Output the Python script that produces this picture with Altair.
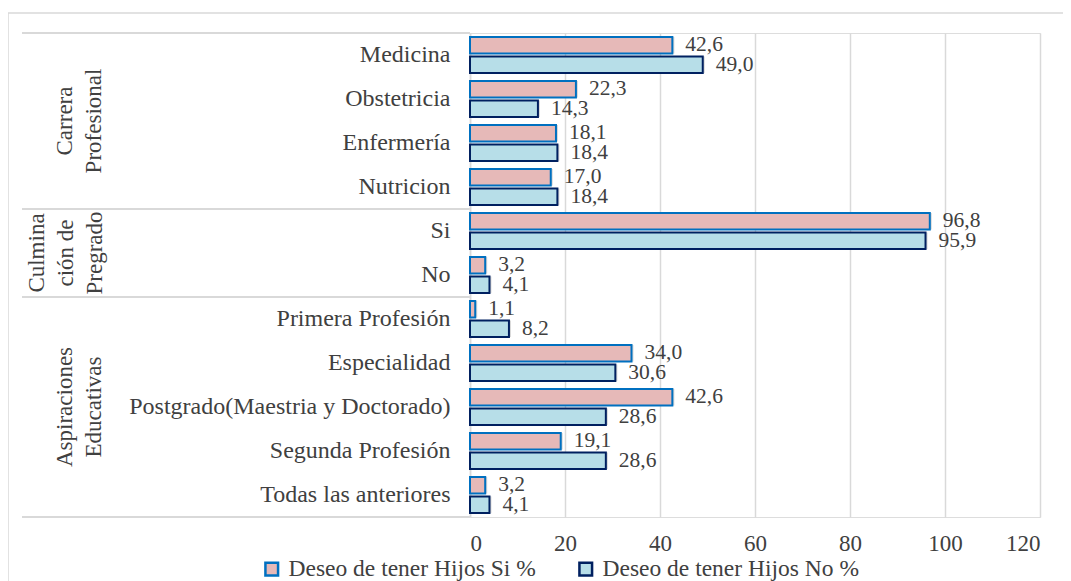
import altair as alt
import pandas as pd

categories = ["Medicina", "Obstetricia", "Enfermería", "Nutricion", "Si", "No",
              "Primera Profesión", "Especialidad", "Postgrado(Maestria y Doctorado)",
              "Segunda Profesión", "Todas las anteriores"]
si_values = [42.6, 22.3, 18.1, 17.0, 96.8, 3.2, 1.1, 34.0, 42.6, 19.1, 3.2]
no_values = [49.0, 14.3, 18.4, 18.4, 95.9, 4.1, 8.2, 30.6, 28.6, 28.6, 4.1]
series = ["Deseo de tener Hijos Si %", "Deseo de tener Hijos No %"]
fills = ["#E6B9B8", "#B7DEE8"]
strokes = ["#0070C0", "#002060"]
x_ticks = [0, 20, 40, 60, 80, 100, 120]

group_labels = ["Carrera\nProfesional", "Culmina\nción de\nPregrado", "Aspiraciones\nEducativas"]
group_anchor = ["Obstetricia", "Si", "Postgrado(Maestria y Doctorado)"]
group_band = [1, 1, 0.5]
group_x = [-405, -433, -405]
separators_top = ["Medicina", "Si", "Primera Profesión"]
separators_bottom = ["Todas las anteriores"]

FONT = "Liberation Serif, Times New Roman, DejaVu Serif, serif"
TXT = "#404040"
GRID = "#d9d9d9"

rows = []
for c, s, n in zip(categories, si_values, no_values):
    rows.append({"category": c, "serie": series[0], "value": s})
    rows.append({"category": c, "serie": series[1], "value": n})
df = pd.DataFrame(rows)

yscale = alt.Scale(domain=categories, paddingInner=0, paddingOuter=0)
yaxis = alt.Axis(title=None, labelFont=FONT, labelFontSize=24, labelColor=TXT,
                 ticks=False, domainColor=GRID, domainWidth=1.5,
                 labelPadding=20, labelLimit=0)


def ycat(bp=None):
    if bp is None:
        return alt.Y("category:N", scale=yscale, sort=categories, axis=yaxis)
    return alt.Y("category:N", scale=yscale, sort=categories, axis=yaxis, bandPosition=bp)


y_off = alt.YOffset("serie:N", sort=series,
                    scale=alt.Scale(domain=series, paddingInner=0.15, paddingOuter=0.2))
x_enc = alt.X("value:Q", scale=alt.Scale(domain=[0, 120]),
              axis=alt.Axis(values=x_ticks, title=None, grid=True, gridColor=GRID, gridWidth=1.5,
                            domain=False, ticks=False, labelFont=FONT, labelFontSize=23,
                            labelColor=TXT, labelPadding=15))

legend = alt.Legend(orient="none", legendX=-210, legendY=524, direction="horizontal",
                    title=None, labelFont=FONT, labelFontSize=23.5, labelColor=TXT,
                    symbolType="square", symbolSize=160, symbolStrokeWidth=2.5,
                    labelOffset=5, columnPadding=38, labelLimit=0)

base = alt.Chart(df)

shadow = base.mark_bar(color="#7f7f7f", opacity=0.3, xOffset=2, yOffset=2).encode(
    x=x_enc, y=ycat(), yOffset=y_off)

bars = base.mark_bar(strokeWidth=2).encode(
    x=x_enc, y=ycat(), yOffset=y_off,
    fill=alt.Fill("serie:N", scale=alt.Scale(domain=series, range=fills), legend=legend),
    stroke=alt.Stroke("serie:N", scale=alt.Scale(domain=series, range=strokes), legend=legend),
)

labels = base.transform_calculate(
    label="replace(format(datum.value, '.1f'), '.', ',')"
).mark_text(align="left", baseline="middle", dx=13, font=FONT, fontSize=21.5, color=TXT).encode(
    x=x_enc, y=ycat(), yOffset=y_off, text="label:N")

sep_top = alt.Chart(pd.DataFrame({"category": separators_top})).mark_rule(
    color=GRID, strokeWidth=2).encode(
    y=ycat(0), x=alt.value(-448), x2=alt.value(0))
sep_bot = alt.Chart(pd.DataFrame({"category": separators_bottom})).mark_rule(
    color=GRID, strokeWidth=2).encode(
    y=ycat(1), x=alt.value(-448), x2=alt.value(0))

group_layers = []
for lab, anc, bp, gx in zip(group_labels, group_anchor, group_band, group_x):
    group_layers.append(
        alt.Chart(pd.DataFrame({"category": [anc], "label": [lab]})).mark_text(
            angle=270, align="center", baseline="middle", lineBreak="\n",
            font=FONT, fontSize=23, lineHeight=29, color=TXT).encode(
            y=ycat(bp), x=alt.value(gx), text="label:N"))

border = alt.Chart(pd.DataFrame({"a": [0]})).mark_rect(
    fill=None, stroke=GRID, strokeWidth=1.5).encode(
    x=alt.value(-462), x2=alt.value(640), y=alt.value(-20), y2=alt.value(600))

chart = alt.layer(shadow, bars, border, sep_top, sep_bot, *group_layers, labels).properties(
    width=570, height=484,
    autosize=alt.AutoSizeParams(type="none"),
    padding={"left": 462, "top": 25, "right": 23, "bottom": 75},
).configure_view(stroke=None).configure(background="white")

chart.save("out.html", embed_options={"renderer": "svg", "actions": False})
